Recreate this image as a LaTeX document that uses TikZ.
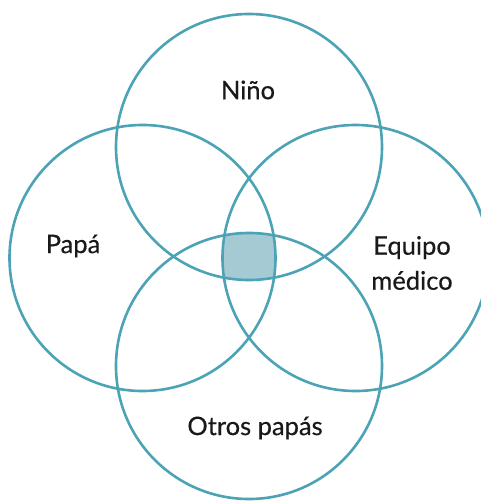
\documentclass[tikz,border=0pt]{standalone}
\usepackage{fontspec}
\setmainfont{Lato}[FakeBold=0.4]
\definecolor{vennline}{HTML}{4BA3B5}
\definecolor{vennfill}{HTML}{A6CAD4}
\tikzset{
  set/.style={draw=vennline, line width=2.6pt},
  setlabel/.style={font=\fontsize{25.5}{35}\selectfont, text=black!90, align=center, inner sep=0pt}
}
\begin{document}
\begin{tikzpicture}[x=1pt,y=-1pt]
\useasboundingbox (0,0) rectangle (481,501);
\clip (0,0) rectangle (481,501);

% centre shared by all four
\begin{scope}
  \clip (249,147) circle (133);
  \clip (142.5,258) circle (133);
  \clip (355.5,258) circle (133);
  \clip (249,366) circle (133);
  \fill[vennfill] (0,0) rectangle (481,501);
\end{scope}

\draw[set] (249,147) circle (133);
\draw[set] (142.5,258) circle (133);
\draw[set] (355.5,258) circle (133);
\draw[set] (249,366) circle (133);

\node[setlabel] (nino) at (248,90) {Niño};
\node[setlabel] (papa) at (73,246) {Papá};
\node[setlabel] (equipo) at (412,263) {Equipo\\médico};
\node[setlabel] (otros) at (255,428) {Otros papás};

\end{tikzpicture}
\end{document}
